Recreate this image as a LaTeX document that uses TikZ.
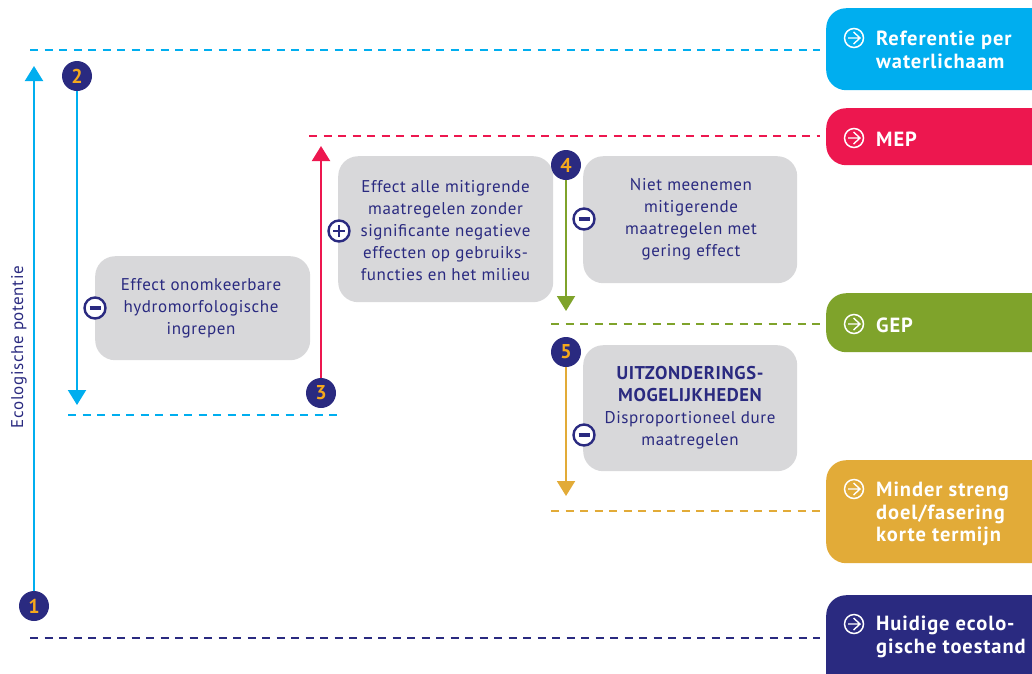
\documentclass[tikz,border=0pt]{standalone}
\usepackage{fontspec}
\setmainfont{PT Sans}[LetterSpace=3.5]
\newfontfamily\tagfont{PT Sans}[LetterSpace=4.5]
\usetikzlibrary{arrows.meta}
\definecolor{cy}{HTML}{00AEEF}
\definecolor{rd}{HTML}{ED174F}
\definecolor{gn}{HTML}{7FA32B}
\definecolor{og}{HTML}{E2AB38}
\definecolor{nv}{HTML}{2A2A80}
\definecolor{gy}{HTML}{D8D8DA}
\definecolor{nm}{HTML}{F5A81C}
\tikzset{
  x=1pt,y=-1pt,
  tagbox/.style={anchor=north west,rounded corners=20pt,minimum width=230pt,inner sep=0pt},
  taglabel/.style={anchor=west,align=left,text=white,inner sep=0pt,font=\tagfont\fontsize{20.5}{22.5}\selectfont\bfseries},
  greybox/.style={anchor=north west,fill=gy,rounded corners=20pt,inner sep=0pt},
  greytext/.style={align=center,text=nv,inner sep=0pt,font=\fontsize{17}{22}\selectfont},
  numdot/.style={circle,fill=nv,text=nm,minimum size=30pt,inner sep=0pt,font=\fontsize{20}{20}\selectfont\bfseries},
  signdot/.style={circle,draw=nv,line width=2.4pt,fill=white,minimum size=21pt,inner sep=0pt},
  icondot/.style={circle,draw=white,line width=1.5pt,minimum size=19pt,inner sep=0pt},
  dashline/.style={line width=2.8pt,dash pattern=on 8pt off 6.5pt,shorten >=6pt},
  flow/.style={line width=2pt,-{Triangle[length=15pt,width=18pt]}},
}
\newcommand{\minussign}[1]{\draw[nv,line width=3.2pt] ([xshift=-5.5pt]#1.center) -- ([xshift=5.5pt]#1.center);}
\newcommand{\plussign}[1]{\draw[nv,line width=2.8pt] ([xshift=-6pt]#1.center) -- ([xshift=6pt]#1.center) ([yshift=-6pt]#1.center) -- ([yshift=6pt]#1.center);}
\newcommand{\iconarrow}[1]{\draw[white,line width=1.4pt] ([xshift=-6pt]#1.center) -- ([xshift=6pt]#1.center) ([xshift=-0.5pt,yshift=-6pt]#1.center) -- ([xshift=6pt]#1.center) -- ([xshift=-0.5pt,yshift=6pt]#1.center);}
\begin{document}
\begin{tikzpicture}
\useasboundingbox (0,0) rectangle (1032,673);
\clip (0,0) rectangle (1032,673);
% right-hand tags
\node[tagbox,fill=cy,minimum height=82pt] (refbox) at (826,8) {};
\node[tagbox,fill=rd,minimum height=57pt] (mepbox) at (826,108) {};
\node[tagbox,fill=gn,minimum height=59pt] (gepbox) at (826,293) {};
\node[tagbox,fill=og,minimum height=103pt] (minbox) at (826,460) {};
\node[tagbox,fill=nv,minimum height=100pt] (huibox) at (826,595) {};
\node[taglabel] (reftext) at (876,50) {Referentie per\\waterlichaam};
\node[taglabel] (meptext) at (876,139) {MEP};
\node[taglabel] (geptext) at (876,325) {GEP};
\node[taglabel] (mintext) at (876,514) {Minder streng\\doel/fasering\\korte termijn};
\node[taglabel] (huitext) at (876,637) {Huidige ecolo-\\gische toestand};
\node[icondot] (ic1) at (854,38) {}; \iconarrow{ic1}
\node[icondot] (ic2) at (854,138) {}; \iconarrow{ic2}
\node[icondot] (ic3) at (854,324) {}; \iconarrow{ic3}
\node[icondot] (ic4) at (854,489) {}; \iconarrow{ic4}
\node[icondot] (ic5) at (854,624) {}; \iconarrow{ic5}
% level lines
\coordinate (ls1) at (30,50);
\coordinate (ls2) at (309,136);
\coordinate (ls3) at (551,324);
\coordinate (ls4) at (551,511);
\coordinate (ls5) at (30,638);
\coordinate (ls6) at (68,415);
\coordinate (le6) at (337,415);
\draw[dashline,cy] (ls1) -- (ls1 -| refbox.west);
\draw[dashline,rd] (ls2) -- (ls2 -| mepbox.west);
\draw[dashline,gn] (ls3) -- (ls3 -| gepbox.west);
\draw[dashline,og] (ls4) -- (ls4 -| minbox.west);
\draw[dashline,nv] (ls5) -- (ls5 -| huibox.west);
\draw[dashline,cy,shorten >=0pt] (ls6) -- (le6);
% grey boxes
\node[greybox,minimum width=215pt,minimum height=104pt] (b1) at (95,256) {};
\node[greybox,minimum width=215pt,minimum height=146pt] (b2) at (338,156) {};
\node[greybox,minimum width=214pt,minimum height=127pt] (b3) at (583,156) {};
\node[greybox,minimum width=214pt,minimum height=126pt] (b4) at (583,345) {};
\node[greytext] (t1) at (201,308) {Effect onomkeerbare\\hydromorfologische\\ingrepen};
\node[greytext] (t2) at (445.5,230.5) {Effect alle mitigrende\\maatregelen zonder\\significante negatieve\\effecten op gebruiks-\\functies en het milieu};
\node[greytext] (t3) at (691,219) {Niet meenemen\\mitigerende\\maatregelen met\\gering effect};
\node[greytext] (t4) at (690,408) {{\fontsize{18.5}{22}\selectfont\bfseries UITZONDERINGS-}\\{\fontsize{18.5}{22}\selectfont\bfseries MOGELIJKHEDEN}\\Disproportioneel dure\\maatregelen};
% flows
\node[numdot] (n1) at (34,606) {1};
\node[numdot] (n2) at (77,76) {2};
\node[numdot] (n3) at (321,393) {3};
\node[numdot] (n4) at (566,165) {4};
\node[numdot] (n5) at (566,352) {5};
\coordinate (e1) at (34,66);
\coordinate (e2) at (77,405);
\coordinate (e3) at (321,146);
\coordinate (e4) at (566,311);
\coordinate (e5) at (566,496);
\draw[flow,cy] (n1) -- (e1);
\draw[flow,cy] (n2) -- (e2);
\draw[flow,rd] (n3) -- (e3);
\draw[flow,gn] (n4) -- (e4);
\draw[flow,og] (n5) -- (e5);
% signs
\node[signdot] (s1) at (95,308) {}; \minussign{s1}
\node[signdot] (s2) at (339,231) {}; \plussign{s2}
\node[signdot] (s3) at (584,219) {}; \minussign{s3}
\node[signdot] (s4) at (584,435) {}; \minussign{s4}
% axis label
\node[rotate=90,text=nv,inner sep=0pt,font=\fontsize{17}{18}\selectfont] (axis) at (19,347) {Ecologische potentie};
\end{tikzpicture}
\end{document}
